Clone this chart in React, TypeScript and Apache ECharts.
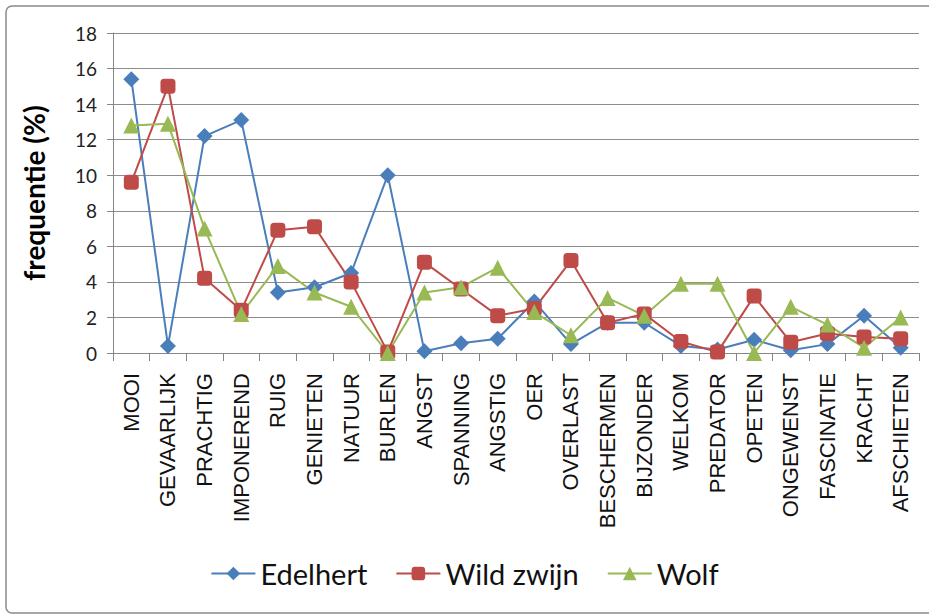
import React, { useEffect, useRef } from "react";
import * as echarts from "echarts";

const categories = [
  "MOOI", "GEVAARLIJK", "PRACHTIG", "IMPONEREND", "RUIG", "GENIETEN", "NATUUR",
  "BURLEN", "ANGST", "SPANNING", "ANGSTIG", "OER", "OVERLAST", "BESCHERMEN",
  "BIJZONDER", "WELKOM", "PREDATOR", "OPETEN", "ONGEWENST", "FASCINATIE",
  "KRACHT", "AFSCHIETEN",
];

const edelhert = [15.4, 0.4, 12.2, 13.1, 3.4, 3.7, 4.5, 10.0, 0.1, 0.55, 0.8, 2.9, 0.5, 1.7, 1.7, 0.4, 0.2, 0.75, 0.15, 0.5, 2.1, 0.3];
const wildZwijn = [9.6, 15.0, 4.2, 2.4, 6.9, 7.1, 4.0, 0.05, 5.1, 3.6, 2.1, 2.5, 5.2, 1.7, 2.2, 0.65, 0.05, 3.2, 0.6, 1.1, 0.9, 0.8];
const wolf = [12.8, 12.9, 7.0, 2.2, 4.9, 3.4, 2.6, 0.0, 3.4, 3.7, 4.8, 2.3, 1.0, 3.1, 2.1, 3.9, 3.9, 0.0, 2.6, 1.6, 0.3, 2.0];

const seriesNames = ["Edelhert", "Wild zwijn", "Wolf"];
const colors = ["#4A7EBB", "#BE4B48", "#98B954"];

export default function App() {
  const ref = useRef<HTMLDivElement>(null);
  useEffect(() => {
    if (!ref.current) return;
    const chart = echarts.init(ref.current, null, { renderer: "svg" });
    const mk = (name: string, data: number[], color: string, symbol: string, size: number) => ({
      name,
      type: "line",
      data,
      symbol,
      symbolSize: size,
      showAllSymbol: true,
      lineStyle: { color, width: 2 },
      itemStyle: { color },
    });
    chart.setOption({
      animation: false,
      backgroundColor: "#ffffff",
      graphic: [
        {
          type: "rect",
          shape: { x: 6, y: 6, width: 940, height: 607, r: 6 },
          style: { fill: "none", stroke: "#8a8a8a", lineWidth: 1.5 },
          z: -10,
          silent: true,
        },
      ],
      grid: { left: 113, right: 10, top: 33, bottom: 262, containLabel: false },
      legend: {
        bottom: 22,
        left: "center",
        itemWidth: 44,
        itemHeight: 17,
        itemGap: 28,
        data: seriesNames,
        textStyle: { fontFamily: "Lato", fontSize: 29, color: "#111" },
      },
      xAxis: {
        type: "category",
        data: categories,
        boundaryGap: true,
        axisLine: { lineStyle: { color: "#868686", width: 1 } },
        axisTick: { show: true, length: 8, lineStyle: { color: "#868686" } },
        axisLabel: {
          rotate: 90,
          interval: 0,
          margin: 20,
          fontFamily: "Liberation Sans",
          fontSize: 22,
          color: "#111",
        },
        splitLine: { show: false },
      },
      yAxis: {
        type: "value",
        min: 0,
        max: 18,
        interval: 2,
        name: "frequentie (%)",
        nameLocation: "middle",
        nameGap: 65,
        nameTextStyle: { fontFamily: "Lato", fontSize: 28, fontWeight: "bold", color: "#000" },
        axisLine: { show: true, lineStyle: { color: "#868686", width: 1 } },
        axisTick: { show: true, length: 6, lineStyle: { color: "#868686" } },
        axisLabel: { margin: 16, fontFamily: "Lato", fontSize: 19, color: "#222" },
        splitLine: { show: true, lineStyle: { color: "#8c8c8c", width: 1 } },
      },
      series: [
        mk(seriesNames[0], edelhert, colors[0], "diamond", 16),
        mk(seriesNames[1], wildZwijn, colors[1], "roundRect", 15),
        mk(seriesNames[2], wolf, colors[2], "triangle", 16),
      ],
    });
    return () => chart.dispose();
  }, []);
  return (
    <div
      ref={ref}
      style={{ position: "fixed", left: 0, top: 0, width: 929, height: 615, background: "#fff" }}
    />
  );
}
